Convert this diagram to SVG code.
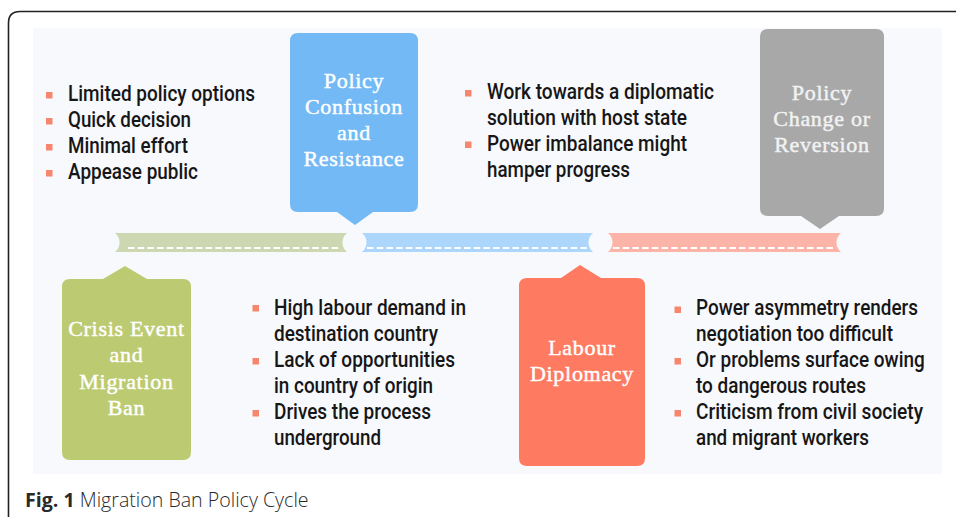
<svg xmlns="http://www.w3.org/2000/svg" width="956" height="517" viewBox="0 0 956 517">
<style>
.node{font-family:"Liberation Serif","DejaVu Serif",serif;font-size:22px;fill:#ffffff;stroke:#ffffff;stroke-width:0.45px;text-anchor:middle;letter-spacing:0.7px}
.gtxt{fill:#f2f2f2;stroke:#f2f2f2}
.b{font-family:Roboto,"Liberation Sans",sans-serif;font-size:22px;font-weight:500;fill:#161616}
.sq{fill:#f7866e}
.dash{stroke:#ffffff;stroke-width:2;stroke-dasharray:6.5 3.2;fill:none}
.cut{fill:#f8f9fd}
.cap{font-family:"Open Sans","Noto Sans",sans-serif;font-size:19.6px;fill:#2a2a2a}
</style>
<rect x="0" y="0" width="956" height="517" fill="#ffffff"/>
<path d="M8.5 517 V23 Q8.5 11.5 20 11.5 H956" fill="none" stroke="#222222" stroke-width="1.6"/>
<rect x="33" y="28" width="909" height="446" fill="#f8f9fd"/>

<g id="connectors">
<rect x="112" y="233" width="240" height="19" fill="#cdd8b2"/>
<rect x="356" y="233" width="240" height="19" fill="#acd6fb"/>
<rect x="604" y="233" width="240" height="19" fill="#fdb4a8"/>
<circle class="cut" cx="107" cy="242.5" r="12.5"/>
<circle class="cut" cx="354.5" cy="242.5" r="12"/>
<circle class="cut" cx="600.5" cy="242.5" r="12"/>
<circle class="cut" cx="849" cy="242.5" r="12.5"/>
<line class="dash" x1="128" y1="248" x2="341" y2="248"/>
<line class="dash" x1="367" y1="248" x2="589" y2="248"/>
<line class="dash" x1="613" y1="248" x2="834" y2="248"/>
</g>

<g id="node-crisis">
<path d="M70 279 H103 L125 266 L147 279 H183 Q191 279 191 287 V452 Q191 460 183 460 H70 Q62 460 62 452 V287 Q62 279 70 279 Z" fill="#bccb72"/>
<text class="node" x="126.5" y="336">Crisis Event</text>
<text class="node" x="126.5" y="362">and</text>
<text class="node" x="126.5" y="389">Migration</text>
<text class="node" x="126.5" y="415">Ban</text>
</g>

<g id="node-confusion">
<path d="M298 33 H410 Q418 33 418 41 V204 Q418 212 410 212 H373 L355 225 L337 212 H298 Q290 212 290 204 V41 Q290 33 298 33 Z" fill="#73b9f6"/>
<text class="node" x="354" y="88">Policy</text>
<text class="node" x="354" y="114">Confusion</text>
<text class="node" x="354" y="140">and</text>
<text class="node" x="354" y="166">Resistance</text>
</g>

<g id="node-diplomacy">
<path d="M527 278 H561 L580 265 L601 278 H637 Q645 278 645 286 V458 Q645 466 637 466 H527 Q519 466 519 458 V286 Q519 278 527 278 Z" fill="#fe7a60"/>
<text class="node" x="582" y="355">Labour</text>
<text class="node" x="582" y="381">Diplomacy</text>
</g>

<g id="node-change">
<path d="M768 29 H876 Q884 29 884 37 V208 Q884 216 876 216 H839 L820 229 L801 216 H768 Q760 216 760 208 V37 Q760 29 768 29 Z" fill="#a8a8a9"/>
<text class="node gtxt" x="822" y="100">Policy</text>
<text class="node gtxt" x="822" y="126">Change or</text>
<text class="node gtxt" x="822" y="152">Reversion</text>
</g>

<g id="notes-crisis">
<rect class="sq" x="46" y="92" width="6.5" height="6.5"/>
<rect class="sq" x="46" y="118" width="6.5" height="6.5"/>
<rect class="sq" x="46" y="144" width="6.5" height="6.5"/>
<rect class="sq" x="46" y="170" width="6.5" height="6.5"/>
<text class="b" x="68" y="101" textLength="187" lengthAdjust="spacingAndGlyphs">Limited policy options</text>
<text class="b" x="68" y="127" textLength="123" lengthAdjust="spacingAndGlyphs">Quick decision</text>
<text class="b" x="68" y="152.5" textLength="120" lengthAdjust="spacingAndGlyphs">Minimal effort</text>
<text class="b" x="68" y="178.5" textLength="130" lengthAdjust="spacingAndGlyphs">Appease public</text>
</g>

<g id="notes-confusion">
<rect class="sq" x="465" y="90" width="6.5" height="6.5"/>
<rect class="sq" x="465" y="141.5" width="6.5" height="6.5"/>
<text class="b" x="487" y="99" textLength="227" lengthAdjust="spacingAndGlyphs">Work towards a diplomatic</text>
<text class="b" x="487" y="125" textLength="200" lengthAdjust="spacingAndGlyphs">solution with host state</text>
<text class="b" x="487" y="150.7" textLength="200" lengthAdjust="spacingAndGlyphs">Power imbalance might</text>
<text class="b" x="487" y="176.7" textLength="143" lengthAdjust="spacingAndGlyphs">hamper progress</text>
</g>

<g id="notes-ban">
<rect class="sq" x="252.5" y="305" width="6.5" height="6.5"/>
<rect class="sq" x="252.5" y="358" width="6.5" height="6.5"/>
<rect class="sq" x="252.5" y="410" width="6.5" height="6.5"/>
<text class="b" x="274" y="315.3" textLength="192" lengthAdjust="spacingAndGlyphs">High labour demand in</text>
<text class="b" x="274" y="341.3" textLength="164" lengthAdjust="spacingAndGlyphs">destination country</text>
<text class="b" x="274" y="367" textLength="181" lengthAdjust="spacingAndGlyphs">Lack of opportunities</text>
<text class="b" x="274" y="393" textLength="159" lengthAdjust="spacingAndGlyphs">in country of origin</text>
<text class="b" x="274" y="419" textLength="157" lengthAdjust="spacingAndGlyphs">Drives the process</text>
<text class="b" x="274" y="444.7" textLength="107" lengthAdjust="spacingAndGlyphs">underground</text>
</g>

<g id="notes-diplomacy">
<rect class="sq" x="674.5" y="306.5" width="6.5" height="6.5"/>
<rect class="sq" x="674.5" y="358" width="6.5" height="6.5"/>
<rect class="sq" x="674.5" y="410" width="6.5" height="6.5"/>
<text class="b" x="696" y="315" textLength="222" lengthAdjust="spacingAndGlyphs">Power asymmetry renders</text>
<text class="b" x="696" y="341" textLength="197" lengthAdjust="spacingAndGlyphs">negotiation too difficult</text>
<text class="b" x="0" y="0" transform="translate(696 367) scale(0.88 1)" textLength="260" lengthAdjust="spacingAndGlyphs">Or problems surface owing</text>
<text class="b" x="696" y="393" textLength="170" lengthAdjust="spacingAndGlyphs">to dangerous routes</text>
<text class="b" x="696" y="419" textLength="227" lengthAdjust="spacingAndGlyphs">Criticism from civil society</text>
<text class="b" x="696" y="445" textLength="173" lengthAdjust="spacingAndGlyphs">and migrant workers</text>
</g>

<text class="cap" x="25" y="507"><tspan font-weight="bold">Fig. 1</tspan><tspan font-weight="300"> Migration Ban Policy Cycle</tspan></text>
</svg>
